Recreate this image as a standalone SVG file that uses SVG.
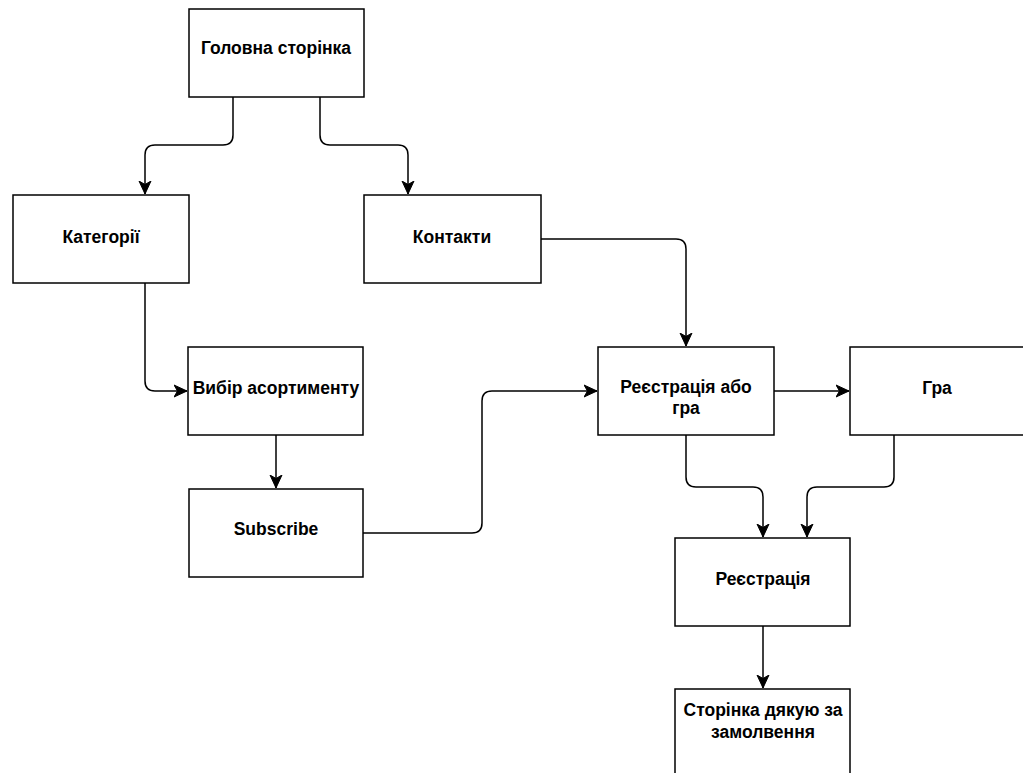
<svg xmlns="http://www.w3.org/2000/svg" width="1023" height="773" viewBox="0 0 1023 773">
<style>
.n rect{fill:#fff;stroke:#000;stroke-width:1.5}
.n text{font-family:"Liberation Sans",Arial,sans-serif;font-weight:bold;font-size:17.5px;fill:#000;text-anchor:middle}
.c path{fill:none;stroke:#000;stroke-width:1.5}
</style>
<defs>
<marker id="a" markerUnits="userSpaceOnUse" markerWidth="14" markerHeight="14" viewBox="0 0 14 14" refX="13" refY="7" orient="auto">
<path d="M0,1 L13,7 L0,13 L3.5,7 Z" fill="#000" stroke="#000" stroke-width="1"/>
</marker>
</defs>
<rect width="1023" height="773" fill="#fff"/>
<g class="c">
<path d="M233,97 V135 Q233,145 223,145 H155 Q145,145 145,155 V194" marker-end="url(#a)"/>
<path d="M320,97 V135 Q320,145 330,145 H398 Q408,145 408,155 V194" marker-end="url(#a)"/>
<path d="M541,239 H676 Q686,239 686,249 V346" marker-end="url(#a)"/>
<path d="M145,283 V381 Q145,391 155,391 H187" marker-end="url(#a)"/>
<path d="M276,435 V488" marker-end="url(#a)"/>
<path d="M363,533 H472 Q482,533 482,523 V401 Q482,391 492,391 H597" marker-end="url(#a)"/>
<path d="M774,391 H849" marker-end="url(#a)"/>
<path d="M686,435 V477 Q686,487 696,487 H753 Q763,487 763,497 V537" marker-end="url(#a)"/>
<path d="M894,435 V477 Q894,487 884,487 H817 Q807,487 807,497 V537" marker-end="url(#a)"/>
<path d="M763,626 V688" marker-end="url(#a)"/>
</g>
<g id="n1" class="n"><rect x="189" y="9" width="175" height="88"/><text x="276" y="54">Головна сторінка</text></g>
<g id="n2" class="n"><rect x="13" y="195" width="176" height="88"/><text x="101" y="243">Категорії</text></g>
<g id="n3" class="n"><rect x="364" y="195" width="177" height="88"/><text x="452" y="243">Контакти</text></g>
<g id="n4" class="n"><rect x="188" y="347" width="175" height="88"/><text x="276" y="394">Вибір асортименту</text></g>
<g id="n5" class="n"><rect x="189" y="489" width="174" height="88"/><text x="276" y="535">Subscribe</text></g>
<g id="n6" class="n"><rect x="598" y="347" width="176" height="88"/><text x="686" y="393">Реєстрація або</text><text x="686" y="414">гра</text></g>
<g id="n7" class="n"><rect x="850" y="347" width="176" height="88"/><text x="937" y="394">Гра</text></g>
<g id="n8" class="n"><rect x="675" y="538" width="175" height="88"/><text x="763" y="585">Реєстрація</text></g>
<g id="n9" class="n"><rect x="675" y="689" width="175" height="88"/><text x="763" y="716">Сторінка дякую за</text><text x="763" y="738">замолвення</text></g>
</svg>
